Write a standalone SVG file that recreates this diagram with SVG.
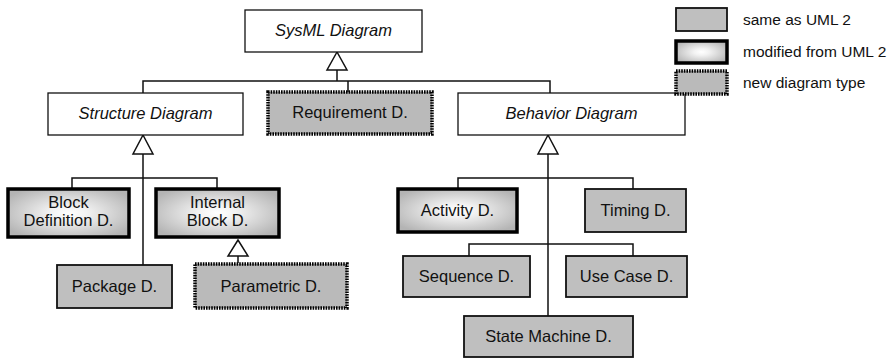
<svg xmlns="http://www.w3.org/2000/svg" width="895" height="359" viewBox="0 0 895 359">
<defs>
<radialGradient id="mod" cx="0.5" cy="0.5" r="0.6">
<stop offset="0" stop-color="#ffffff"/>
<stop offset="0.25" stop-color="#f2f2f2"/>
<stop offset="1" stop-color="#b4b4b4"/>
</radialGradient>
<style>
text{font-family:"Liberation Sans",Arial,sans-serif;font-size:16.5px;fill:#111;text-anchor:middle}
.it{font-style:italic}
.leg{font-size:15.5px;text-anchor:start}
.abs{fill:#fff;stroke:#111;stroke-width:1.3}
.same{fill:#bfbfbf;stroke:#111;stroke-width:1.8}
.modi{fill:url(#mod);stroke:#000;stroke-width:3.5}
.newt{fill:#bababa;stroke:#000;stroke-width:3.5;stroke-dasharray:1.6 1}
.ln{fill:none;stroke:#111;stroke-width:1.5}
.tri{fill:#fff;stroke:#111;stroke-width:1.5;stroke-linejoin:miter}
</style>
</defs>
<g id="connectors">
<polygon class="tri" points="337,52 327,70 347,70"/>
<path class="ln" d="M337,70 V81 M143,93 V81 H550 V93 M348,81 V92"/>
<polygon class="tri" points="143,135 133,154 153,154"/>
<path class="ln" d="M143,154 V265 M72,189 V178 H217 V189"/>
<polygon class="tri" points="238,240 228,256 248,256"/>
<path class="ln" d="M238,256 V263"/>
<polygon class="tri" points="548,135 538,154 558,154"/>
<path class="ln" d="M548,154 V316 M458,189 V178 H633 V189 M469,256 V244 H633 V256"/>
</g>
<g id="sysml"><rect class="abs" x="245" y="10" width="177" height="42"/><text class="it" x="333.5" y="36">SysML Diagram</text></g>
<g id="structure"><rect class="abs" x="48" y="93" width="195" height="42"/><text class="it" x="145.5" y="119">Structure Diagram</text></g>
<g id="requirement"><rect class="newt" x="268" y="92" width="164" height="42"/><text x="350" y="118">Requirement D.</text></g>
<g id="behavior"><rect class="abs" x="458" y="93" width="227" height="42"/><text class="it" x="571.5" y="119">Behavior Diagram</text></g>
<g id="blockdef"><rect class="modi" x="8" y="189" width="121" height="48"/><text x="68.5" y="208">Block</text><text x="68.5" y="226">Definition D.</text></g>
<g id="internal"><rect class="modi" x="156" y="189" width="123" height="48"/><text x="217.5" y="208">Internal</text><text x="217.5" y="226">Block D.</text></g>
<g id="package"><rect class="same" x="57" y="265" width="115" height="43"/><text x="114.5" y="292">Package D.</text></g>
<g id="parametric"><rect class="newt" x="195" y="264" width="152" height="44"/><text x="271" y="292">Parametric D.</text></g>
<g id="activity"><rect class="modi" x="398" y="189" width="119" height="43"/><text x="457.5" y="216">Activity D.</text></g>
<g id="timing"><rect class="same" x="585" y="189" width="101" height="43"/><text x="635.5" y="216">Timing D.</text></g>
<g id="sequence"><rect class="same" x="403" y="256" width="127" height="41"/><text x="466.5" y="282">Sequence D.</text></g>
<g id="usecase"><rect class="same" x="566" y="256" width="121" height="41"/><text x="626.5" y="282">Use Case D.</text></g>
<g id="statemachine"><rect class="same" x="464" y="316" width="169" height="41"/><text x="548.5" y="342">State Machine D.</text></g>
<g id="legend">
<rect class="same" x="676" y="8" width="51" height="23"/><text class="leg" x="743" y="25">same as UML 2</text>
<rect class="modi" x="676" y="41" width="51" height="22"/><text class="leg" x="743" y="57">modified from UML 2</text>
<rect class="newt" x="676" y="71" width="51" height="23"/><text class="leg" x="743" y="88">new diagram type</text>
</g>
</svg>
